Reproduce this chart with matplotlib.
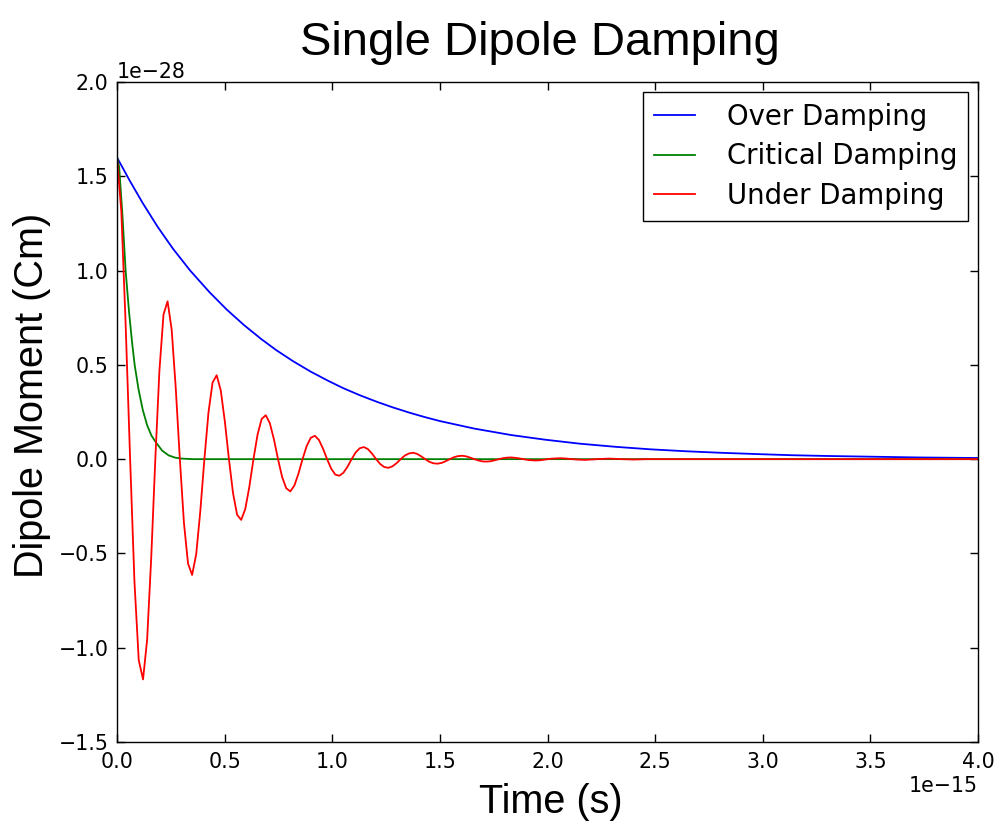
import matplotlib
matplotlib.use('Agg')
import matplotlib.pyplot as plt

# time axis in units of 1e-15 s, dipole moment in units of 1e-28 Cm
T_SCALE = 1e-15
P_SCALE = 1e-28

over_t = [0.00, 0.06, 0.12, 0.19, 0.26, 0.34, 0.43, 0.51, 0.59, 0.67,
          0.74, 0.82, 0.90, 0.98, 1.05, 1.13, 1.21, 1.28, 1.36, 1.43,
          1.50, 1.66, 1.83, 1.99, 2.15, 2.32, 2.48, 2.64, 2.80, 2.97,
          3.13, 3.29, 3.45, 3.72, 4.00]
over_p = [1.600, 1.475, 1.357, 1.230, 1.116, 1.000, 0.885, 0.793, 0.711, 0.637,
          0.578, 0.518, 0.464, 0.416, 0.377, 0.338, 0.303, 0.275, 0.246, 0.223,
          0.202, 0.162, 0.128, 0.103, 0.082, 0.065, 0.052, 0.042, 0.034, 0.027,
          0.021, 0.017, 0.014, 0.009, 0.006]

critical_t = [0.000, 0.010, 0.025, 0.040, 0.056, 0.070, 0.082, 0.100, 0.120, 0.140,
              0.160, 0.180, 0.210, 0.240, 0.270, 0.300, 0.350, 0.500, 1.000, 2.000,
              3.000, 4.000]
critical_p = [1.600, 1.550, 1.300, 1.000, 0.780, 0.620, 0.500, 0.370, 0.260, 0.180,
              0.125, 0.090, 0.045, 0.020, 0.008, 0.003, 0.000, 0.000, 0.000, 0.000,
              0.000, 0.000]

under_t = [0.000, 0.020, 0.040, 0.061, 0.081, 0.101, 0.121,
           0.140, 0.159, 0.178, 0.197, 0.216, 0.235,
           0.254, 0.273, 0.292, 0.311, 0.330, 0.349,
           0.368, 0.387, 0.406, 0.425, 0.444, 0.463,
           0.482, 0.501, 0.520, 0.539, 0.558, 0.577,
           0.596, 0.615, 0.634, 0.653, 0.672, 0.691,
           0.710, 0.729, 0.748, 0.767, 0.786, 0.805,
           0.824, 0.843, 0.862, 0.881, 0.900, 0.919,
           0.938, 0.957, 0.976, 0.995, 1.014, 1.033,
           1.052, 1.071, 1.090, 1.109, 1.128, 1.147,
           1.166, 1.185, 1.204, 1.223, 1.242, 1.261,
           1.280, 1.299, 1.318, 1.337, 1.356, 1.375,
           1.394, 1.413, 1.432, 1.451, 1.470, 1.489,
           1.508, 1.527, 1.546, 1.565, 1.584, 1.603,
           1.622, 1.641, 1.660, 1.679, 1.698, 1.717,
           1.736, 1.755, 1.774, 1.793, 1.812, 1.831,
           1.850, 1.869, 1.888, 1.907, 1.926, 1.945,
           1.964, 1.983, 2.002, 2.021, 2.040, 2.059,
           2.078, 2.097, 2.116, 2.135, 2.154, 2.173,
           2.230, 2.287, 2.344, 2.401, 2.458, 3.000, 4.000]
under_p = [1.600, 1.315, 0.720, 0.000, -0.648, -1.066, -1.168,
           -0.957, -0.523, 0.000, 0.468, 0.767, 0.837,
           0.687, 0.376, 0.000, -0.338, -0.554, -0.614,
           -0.504, -0.276, 0.000, 0.248, 0.406, 0.445,
           0.365, 0.200, 0.000, -0.180, -0.295, -0.322,
           -0.264, -0.145, 0.000, 0.130, 0.213, 0.233,
           0.191, 0.105, 0.000, -0.094, -0.154, -0.171,
           -0.140, -0.077, 0.000, 0.069, 0.113, 0.124,
           0.102, 0.056, 0.000, -0.050, -0.082, -0.088,
           -0.072, -0.040, 0.000, 0.036, 0.058, 0.064,
           0.053, 0.029, 0.000, -0.026, -0.042, -0.046,
           -0.038, -0.021, 0.000, 0.019, 0.030, 0.034,
           0.028, 0.015, 0.000, -0.014, -0.022, -0.024,
           -0.020, -0.011, 0.000, 0.010, 0.016, 0.018,
           0.015, 0.008, 0.000, -0.007, -0.012, -0.013,
           -0.011, -0.006, 0.000, 0.005, 0.008, 0.009,
           0.007, 0.004, 0.000, -0.004, -0.006, -0.007,
           -0.006, -0.003, 0.000, 0.003, 0.004, 0.005,
           0.004, 0.002, 0.000, -0.002, -0.003, -0.004,
           0.000, 0.003, 0.000, -0.002, 0.000, 0.000, 0.000]

series = [
    ('Over Damping', over_t, over_p, 'b'),
    ('Critical Damping', critical_t, critical_p, 'g'),
    ('Under Damping', under_t, under_p, 'r'),
]

label_font = ['Liberation Sans', 'DejaVu Sans']

fig = plt.figure(figsize=(10, 8.25), dpi=100)
ax = fig.add_axes([0.117, 0.1006, 0.861, 0.80])

for name, t, p, col in series:
    ax.plot([v * T_SCALE for v in t], [v * P_SCALE for v in p],
            color=col, linewidth=1.3, label=name)

ax.set_xlim(0, 4 * T_SCALE)
ax.set_ylim(-1.5 * P_SCALE, 2.0 * P_SCALE)
ax.set_xticks([i * 0.5 * T_SCALE for i in range(9)])
ax.set_yticks([(-1.5 + i * 0.5) * P_SCALE for i in range(8)])

ax.tick_params(direction='in', length=6, width=1, top=True, right=True,
               labelsize=14.8, colors='black')
ax.tick_params(axis='x', pad=7)
ax.tick_params(axis='y', pad=6)
ax.xaxis.get_offset_text().set_fontsize(14.8)
ax.yaxis.get_offset_text().set_fontsize(14.8)
for sp in ax.spines.values():
    sp.set_linewidth(1.0)
    sp.set_color('black')

leg = ax.legend(loc='upper right', fontsize=19.8, fancybox=False, framealpha=1,
                edgecolor='black', handlelength=1.5, handletextpad=1.15,
                borderaxespad=0.35, borderpad=0.4, labelspacing=0.42)
leg.get_frame().set_linewidth(1.0)

fig.text(0.540, 1 - 55 / 825, 'Single Dipole Damping', family=label_font,
         fontsize=34, ha='center', va='baseline')
fig.text(0.551, 1 - 813 / 825, 'Time (s)', family=label_font,
         fontsize=28.5, ha='center', va='baseline')
fig.text(0.032, 1 - 395 / 825, 'Dipole Moment (Cm)', family=label_font,
         fontsize=28.5, rotation=90, ha='center', va='center')

plt.savefig('out.png', dpi=100)
plt.close()
